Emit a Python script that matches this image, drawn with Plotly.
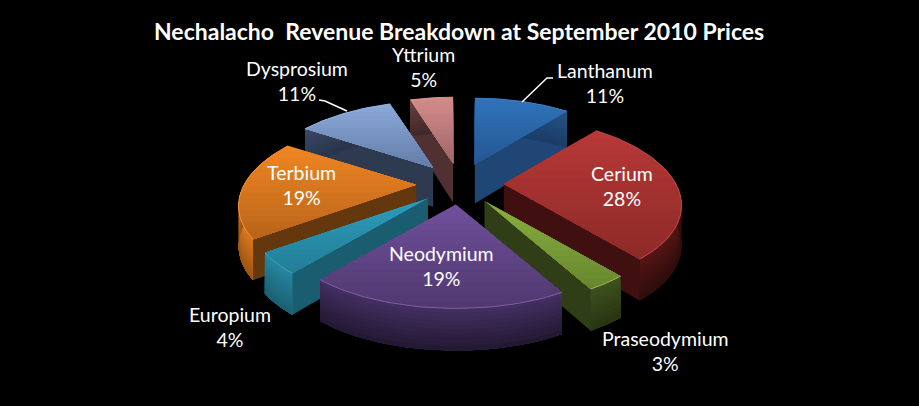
import numpy as np
import plotly.graph_objects as go

# ---- data ----
categories = ["Lanthanum", "Cerium", "Praseodymium", "Neodymium",
              "Europium", "Terbium", "Dysprosium", "Yttrium"]
shares = [11, 28, 3, 19, 4, 19, 11, 5]
title_text = "Nechalacho  Revenue Breakdown at September 2010 Prices"

# ---- styles ----
top_light = ["#3073BC", "#B83836", "#8AB03E", "#70509C", "#2D9DBC", "#F08622", "#8BA9DA", "#D48C8C"]
top_dark = ["#265690", "#8C2A28", "#66862E", "#50386E", "#237D96", "#B8641A", "#637DA6", "#A06666"]
cut_col = ["#1F4674", "#3F100F", "#2F3E17", "#3A2854", "#1A5C70", "#64370D", "#2E3A50", "#503030"]
wall_light = ["#25558C", "#551715", "#3F5120", "#443062", "#27879F", "#D87820", "#3A4A68", "#6A4040"]
wall_dark = ["#1A3C64", "#2C0C0B", "#28350F", "#221832", "#1A5F72", "#9C5410", "#28344A", "#402828"]
draw_order = [7, 0, 6, 5, 1, 4, 2, 3]
label_xy = [(605, 83), (622, 186), (665, 351), (441, 266), (230, 327), (301, 185), (297, 81), (423, 67)]
leaders = [((522, 547, 553), (102, 78, 78)), ((347, 325, 319), (111, 101, 100))]

CX, CY, RX, RY, EXPL, KX, KY, H = 460, 184, 172, 81, 0.255, 0.25, 0.22, 39

fractions = np.array(shares) / sum(shares)
edges = np.concatenate([[0], np.cumsum(fractions)]) * 2 * np.pi


def hex_rgb(c):
    return np.array([int(c[i:i + 2], 16) for i in (1, 3, 5)], float)


def mix(a, b, t):
    v = hex_rgb(a) * (1 - t) + hex_rgb(b) * t
    return "rgb(%d,%d,%d)" % tuple(v.round())


def project(theta, r, mid):
    """Tilted-disc perspective: radius r at clock angle theta, in slice pulled along mid."""
    c = r * np.cos(theta)
    x = CX + RX * EXPL * np.sin(mid) + RX * r * np.sin(theta) / (1 + KX * c)
    y = CY - RY * EXPL * np.cos(mid) - RY * c / (1 + KY * c)
    return x, y


def depth(theta, r):
    return H * (1 - 0.08 * r * np.cos(theta))


def clip(poly, y0, y1):
    def half(pts, keep, cross):
        out = []
        for i in range(len(pts)):
            a, b = pts[i], pts[(i + 1) % len(pts)]
            if keep(a):
                out.append(a)
            if keep(a) != keep(b):
                t = (cross - a[1]) / (b[1] - a[1])
                out.append((a[0] + t * (b[0] - a[0]), cross))
        return out
    pts = half(poly, lambda p: p[1] >= y0, y0)
    if pts:
        pts = half(pts, lambda p: p[1] <= y1, y1)
    return pts


fig = go.Figure()


def add_poly(pts, color):
    xs = [p[0] for p in pts] + [pts[0][0]]
    ys = [p[1] for p in pts] + [pts[0][1]]
    fig.add_trace(go.Scatter(x=xs, y=ys, mode="lines", fill="toself", fillcolor=color,
                             line=dict(color=color, width=0), hoverinfo="skip", showlegend=False))


for i in draw_order:
    t0, t1 = edges[i], edges[i + 1]
    mid = (t0 + t1) / 2
    apex = project(0.0, 0.0, mid)
    arc = np.linspace(t0, t1, 40)
    rim = [project(t, 1.0, mid) for t in arc]
    rim_h = [depth(t, 1.0) for t in arc]

    # cut faces
    for t in (t0, t1):
        p = project(t, 1.0, mid)
        d = depth(t, 1.0)
        add_poly([apex, p, (p[0], p[1] + d), (apex[0], apex[1] + H)], cut_col[i])

    # outer wall: each band paints from its top edge to the wall's foot, so no seams show
    bands = 10
    lower = [(p[0], p[1] + d) for p, d in zip(rim, rim_h)]
    for b in range(bands):
        f0 = b / bands
        upper = [(p[0], p[1] + f0 * d) for p, d in zip(rim, rim_h)]
        add_poly(upper + lower[::-1], mix(wall_light[i], wall_dark[i], (b + 0.5) / bands))

    # top face: same painter's approach, shaded top to bottom
    face = [apex] + rim
    ys = [p[1] for p in face]
    lo, hi = min(ys), max(ys)
    bands = 16
    for b in range(bands):
        y0 = lo + (hi - lo) * b / bands
        piece = clip(face, y0, hi + 1)
        if len(piece) >= 3:
            add_poly(piece, mix(top_light[i], top_dark[i], (b + 0.5) / bands))

    # thin lighter edge along the rim
    fig.add_trace(go.Scatter(x=[p[0] for p in rim], y=[p[1] for p in rim], mode="lines",
                             line=dict(color=mix(top_light[i], "#FFFFFF", 0.08), width=1),
                             hoverinfo="skip", showlegend=False))

for lx, ly in leaders:
    fig.add_trace(go.Scatter(x=list(lx), y=list(ly), mode="lines",
                             line=dict(color="white", width=1.5),
                             hoverinfo="skip", showlegend=False))

for name, val, (x, y) in zip(categories, shares, label_xy):
    fig.add_annotation(x=x, y=y, text=f"{name}<br>{val}%", showarrow=False,
                       font=dict(family="Lato, Carlito, sans-serif", size=19.5, color="white"))

fig.add_annotation(x=459, y=31, text=f"<b>{title_text}</b>", showarrow=False,
                   font=dict(family="Lato, Carlito, sans-serif", size=23, color="white"))

fig.update_layout(
    width=919, height=406, margin=dict(l=0, r=0, t=0, b=0),
    paper_bgcolor="black", plot_bgcolor="black", showlegend=False,
    xaxis=dict(range=[0, 919], visible=False, fixedrange=True),
    yaxis=dict(range=[406, 0], visible=False, fixedrange=True),
)
fig.write_html("out.html", config={"displayModeBar": False},
               post_script="document.body.style.margin='0';document.body.style.background='black';"
                           "document.documentElement.style.overflow='hidden';")
